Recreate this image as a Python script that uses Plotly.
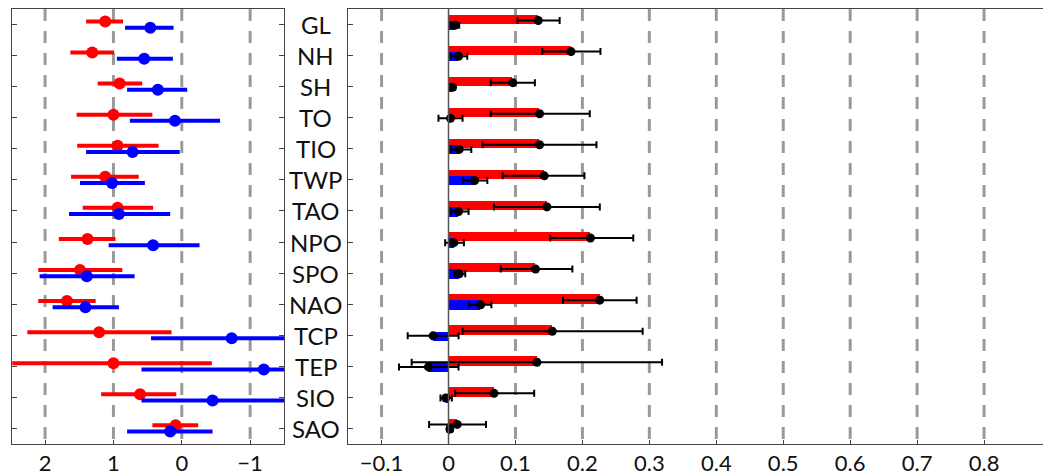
import plotly.graph_objects as go

categories = ["GL", "NH", "SH", "TO", "TIO", "TWP", "TAO", "NPO", "SPO", "NAO", "TCP", "TEP", "SIO", "SAO"]

# Left panel: point estimates with intervals (red / blue)
left_red = [1.12, 1.31, 0.91, 1.00, 0.94, 1.12, 0.94, 1.38, 1.49, 1.68, 1.21, 1.00, 0.61, 0.09]
left_red_lo = [1.40, 1.63, 1.23, 1.54, 1.53, 1.62, 1.45, 1.80, 2.10, 2.10, 2.26, 2.60, 1.18, 0.43]
left_red_hi = [0.86, 0.99, 0.58, 0.43, 0.34, 0.63, 0.42, 0.97, 0.87, 1.26, 0.15, -0.44, 0.08, -0.24]
left_blue = [0.46, 0.55, 0.35, 0.10, 0.72, 1.02, 0.92, 0.42, 1.39, 1.41, -0.73, -1.20, -0.45, 0.17]
left_blue_lo = [0.83, 0.95, 0.80, 0.76, 1.40, 1.49, 1.65, 1.07, 2.08, 1.89, 0.45, 0.59, 0.59, 0.80]
left_blue_hi = [0.12, 0.13, -0.08, -0.56, 0.03, 0.54, 0.17, -0.26, 0.69, 0.92, -2.00, -2.40, -1.90, -0.45]

# Right panel: bars with error bars (red / blue)
right_red = [0.134, 0.183, 0.096, 0.136, 0.136, 0.143, 0.147, 0.212, 0.130, 0.226, 0.155, 0.132, 0.068, 0.013]
right_red_lo = [0.103, 0.140, 0.063, 0.063, 0.051, 0.081, 0.068, 0.152, 0.078, 0.171, 0.021, -0.055, 0.010, -0.029]
right_red_hi = [0.166, 0.227, 0.129, 0.211, 0.221, 0.203, 0.226, 0.276, 0.185, 0.281, 0.290, 0.319, 0.128, 0.056]
right_blue = [0.010, 0.015, 0.006, 0.003, 0.016, 0.039, 0.015, 0.008, 0.016, 0.048, -0.023, -0.030, -0.004, 0.002]
right_blue_lo = [0.004, 0.004, 0.001, -0.015, 0.004, 0.022, 0.004, -0.005, 0.009, 0.031, -0.061, -0.074, -0.012, -0.002]
right_blue_hi = [0.016, 0.028, 0.010, 0.021, 0.034, 0.058, 0.030, 0.023, 0.025, 0.064, 0.015, 0.015, 0.005, 0.006]

left_ticks = [2, 1, 0, -1]
left_ticktext = ["2", "1", "0", "\u22121"]
right_ticks = [-0.1, 0, 0.1, 0.2, 0.3, 0.4, 0.5, 0.6, 0.7, 0.8]
right_ticktext = ["\u22120.1", "0", "0.1", "0.2", "0.3", "0.4", "0.5", "0.6", "0.7", "0.8"]

RED = "#ff0000"
BLUE = "#0000ff"
GRID = "#9a9a9a"
AX = "#444444"
FONT = "Lato"

# page has an 8px body margin: size the figure so it fills the window exactly
OFF = 8
W, H = 1051 - OFF, 476 - OFF


def px_x(p):
    return (p - OFF) / W


def px_y(p):
    return (H - (p - OFF)) / H


pos = list(range(1, len(categories) + 1))

fig = go.Figure()


def seg(lo, hi, ys):
    xs, yy = [], []
    for a, b, y in zip(lo, hi, ys):
        xs += [a, b, None]
        yy += [y, y, None]
    return xs, yy


# ---- Left panel ----
for vals, lo, hi, col, off in [
    (left_red, left_red_lo, left_red_hi, RED, -0.1),
    (left_blue, left_blue_lo, left_blue_hi, BLUE, 0.1),
]:
    ys = [p + off for p in pos]
    xs, yy = seg(lo, hi, ys)
    fig.add_trace(go.Scatter(x=xs, y=yy, mode="lines", line=dict(color=col, width=4),
                             xaxis="x", yaxis="y", showlegend=False, hoverinfo="skip"))
    fig.add_trace(go.Scatter(x=vals, y=ys, mode="markers", marker=dict(color=col, size=12),
                             xaxis="x", yaxis="y", showlegend=False))

# ---- Right panel ----
fig.add_trace(go.Bar(x=right_red, y=[p - 0.17 for p in pos], width=0.3, orientation="h",
                     marker=dict(color=RED, line=dict(width=0)), xaxis="x2", yaxis="y2",
                     showlegend=False))
fig.add_trace(go.Bar(x=right_blue, y=[p + 0.03 for p in pos], width=0.3, orientation="h",
                     marker=dict(color=BLUE, line=dict(width=0)), xaxis="x2", yaxis="y2",
                     showlegend=False))
for vals, lo, hi, off in [
    (right_red, right_red_lo, right_red_hi, -0.13),
    (right_blue, right_blue_lo, right_blue_hi, 0.02),
]:
    fig.add_trace(go.Scatter(
        x=vals, y=[p + off for p in pos], mode="markers",
        marker=dict(color="black", size=9),
        error_x=dict(type="data", symmetric=False,
                     array=[h - v for h, v in zip(hi, vals)],
                     arrayminus=[v - l for v, l in zip(vals, lo)],
                     color="black", thickness=2, width=3.5),
        xaxis="x2", yaxis="y2", showlegend=False))

shapes = []
for t in left_ticks:
    shapes.append(dict(type="line", xref="x", yref="y domain", x0=t, x1=t, y0=1, y1=0,
                       line=dict(color=GRID, width=3, dash="12px,10px"), layer="below"))
for t in right_ticks:
    if t == 0:
        continue
    shapes.append(dict(type="line", xref="x2", yref="y2 domain", x0=t, x1=t, y0=1, y1=0,
                       line=dict(color=GRID, width=3, dash="12px,10px"), layer="below"))
shapes.append(dict(type="line", xref="x2", yref="y2 domain", x0=0, x1=0, y0=0, y1=1,
                   line=dict(color="#555555", width=1.5), layer="above"))

annotations = []
for c, p in zip(categories, pos):
    annotations.append(dict(text=c, x=px_x(315.5), xref="paper", xanchor="center",
                            y=p, yref="y2", yanchor="middle", showarrow=False,
                            font=dict(family=FONT, size=24, color="#111111")))

ydom = [px_y(444), px_y(9)]
tickfont = dict(family=FONT, size=22, color="#111111")
fig.update_layout(
    width=W, height=H,
    margin=dict(l=0, r=0, t=0, b=0),
    paper_bgcolor="white", plot_bgcolor="white",
    barmode="overlay", bargap=0,
    font=dict(family=FONT, size=22, color="#111111"),
    shapes=shapes, annotations=annotations,
    xaxis=dict(domain=[px_x(12.3), px_x(284.3)], range=[2.48, -1.5],
               tickvals=left_ticks, ticktext=left_ticktext, tickfont=tickfont,
               showgrid=False, zeroline=False, showline=True, linecolor=AX, linewidth=1,
               mirror=True, ticks="inside", ticklen=4, tickcolor=AX, automargin=False,
               anchor="y"),
    yaxis=dict(domain=ydom, range=[14.5, 0.5], tickvals=pos, showticklabels=False,
               showgrid=False, zeroline=False, showline=True, linecolor=AX, linewidth=1,
               mirror="ticks", ticks="inside", ticklen=5, tickcolor=AX, automargin=False,
               anchor="x"),
    xaxis2=dict(domain=[px_x(348.3), 1.0], range=[-0.1497, 0.9],
                tickvals=right_ticks, ticktext=right_ticktext, tickfont=tickfont,
                showgrid=False, zeroline=False, showline=True, linecolor=AX, linewidth=1,
                mirror=True, ticks="inside", ticklen=4, tickcolor=AX, automargin=False,
                anchor="y2"),
    yaxis2=dict(domain=ydom, range=[14.5, 0.5], tickvals=pos, showticklabels=False,
                showgrid=False, zeroline=False, showline=True, linecolor=AX, linewidth=1,
                mirror=False, ticks="inside", ticklen=5, tickcolor=AX, automargin=False,
                anchor="x2"),
)

fig.write_html("out.html")
